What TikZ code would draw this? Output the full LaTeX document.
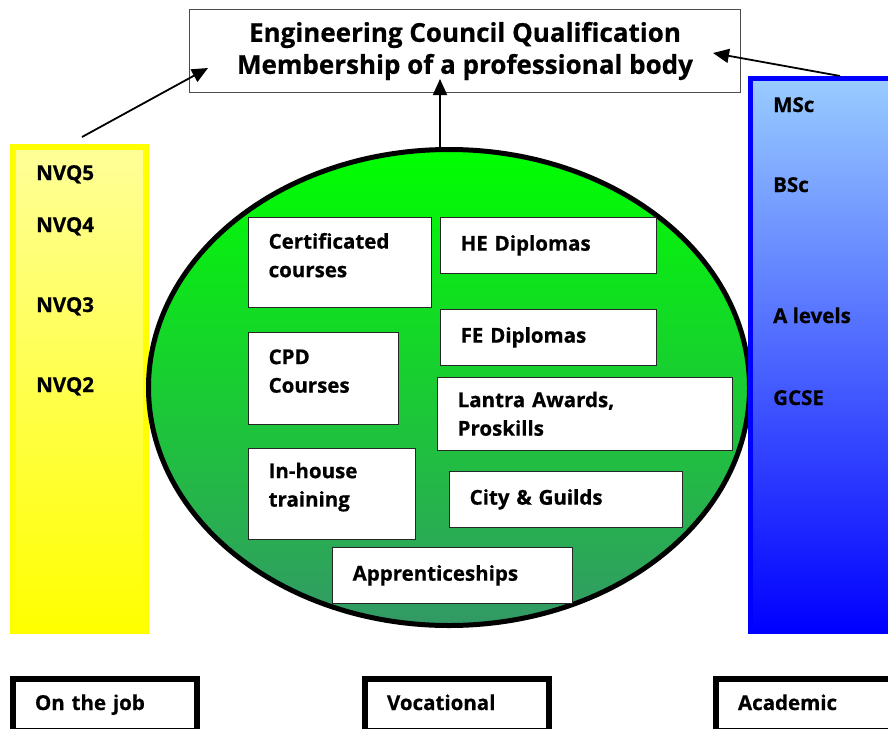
\documentclass[tikz,border=0pt]{standalone}
\usepackage{fontspec}
\setmainfont{Open Sans}[BoldFeatures={FakeBold=0.6}]
\usetikzlibrary{arrows.meta,shapes.geometric,positioning}

\definecolor{nvqpale}{RGB}{255,255,153}
\definecolor{nvqdeep}{RGB}{255,255,0}
\definecolor{acpale}{RGB}{153,204,255}
\definecolor{acdeep}{RGB}{0,0,255}
\definecolor{vocpale}{RGB}{0,255,0}
\definecolor{vocdeep}{RGB}{51,153,102}

\newcommand{\lbl}{\fontsize{20.5}{28.5}\selectfont\bfseries}

\tikzset{
  course/.style={draw=black!85, line width=1.3pt, fill=white, anchor=north west,
    align=left, inner xsep=20pt, inner ysep=0pt, font=\lbl,
    text height=15pt, text depth=5pt},
  level/.style={anchor=base west, font=\lbl, inner sep=0pt},
  stream/.style={draw=black, line width=6pt, fill=white, anchor=north west,
    minimum height=52, inner xsep=22pt, text width=140pt, align=left,
    font=\lbl, text height=15pt, text depth=5pt},
  bar/.style={anchor=north west, inner sep=0pt},
  link/.style={line width=1.8pt, -{Triangle[length=16pt,width=14pt]}}
}

\begin{document}
\begin{tikzpicture}[x=1pt,y=-1pt]
\clip (0,0) rectangle (888,728);

% qualification at the top
\node[draw=black!70, line width=1.2pt, minimum width=551, minimum height=83,
  align=center, font=\fontsize{26}{32}\selectfont\bfseries] (qual) at (465,51)
  {Engineering Council Qualification\\Membership of a professional body};

% the three routes
\node[bar, draw=nvqdeep, line width=6pt, top color=nvqpale, bottom color=nvqdeep,
  minimum width=133, minimum height=484] (job) at (10,144) {};
\node[ellipse, draw=black, line width=5pt, top color=vocpale, bottom color=vocdeep,
  minimum width=601, minimum height=476, inner sep=0pt] (voc) at (449,387.5) {};
\node[bar, draw=acdeep, line width=5pt, top color=acpale, bottom color=acdeep,
  minimum width=160, minimum height=553] (acad) at (748,76) {};

\foreach \lvl/\y in {5/180,4/232,3/312,2/392}{
    \node[level] (nvq\lvl) at (36,\y) {NVQ\lvl};
}
\foreach \nm/\txt/\y in {msc/MSc/112,bsc/BSc/192,alev/A levels/323,gcse/GCSE/405}{
    \node[level] (\nm) at (773,\y) {\txt};
}

% vocational courses
\node[course, text width=143pt, minimum height=90, text depth=43pt] (cert) at (248,217)
  {Certificated\\courses};
\node[course, text width=176pt, minimum height=56] (hedip) at (440,217) {HE Diplomas};
\node[course, text width=176pt, minimum height=56] (fedip) at (440,309) {FE Diplomas};
\node[course, text width=110pt, minimum height=92, text depth=44pt] (cpd) at (248,332)
  {CPD\\Courses};
\node[course, text width=255pt, minimum height=73, text depth=29pt] (lantra) at (437,377)
  {Lantra Awards,\\Proskills};
\node[course, text width=127pt, minimum height=91, text depth=47pt] (inhouse) at (248,448)
  {In-house\\training};
\node[course, text width=193pt, minimum height=56] (guilds) at (449,471) {City \& Guilds};
\node[course, text width=200pt, minimum height=56] (appr) at (332,547) {Apprenticeships};

% route names
\node[stream] (jobname) at (10,676) {On the job};
\node[stream] (vocname) at (362,676) {Vocational};
\node[stream] (acadname) at (713,676) {Academic};

% arrows up to the qualification
\coordinate (jobfoot) at (82,137);
\coordinate (qualwest) at (208,68);
\coordinate (vocfoot) at (440,147);
\coordinate (qualsouth) at (440,79);
\coordinate (acfoot) at (840,76);
\coordinate (qualeast) at (713,53);
\draw[link] (jobfoot) -- (qualwest);
\draw[link] (vocfoot) -- (qualsouth);
\draw[link] (acfoot) -- (qualeast);
\end{tikzpicture}
\end{document}
